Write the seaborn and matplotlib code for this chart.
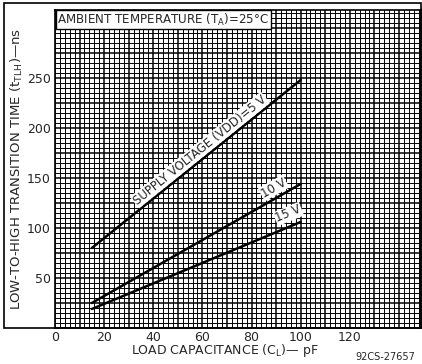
import numpy as np
import pandas as pd
import seaborn as sns
import matplotlib.pyplot as plt
from matplotlib.patches import Rectangle

# values (tTLH vs CL, TA = 25 C)
cap_pf = [15, 100]
t_5v = [80, 248]
t_10v = [25, 144]
t_15v = [19, 106]
vdd_names = ["5 V", "10 V", "15 V"]

x_ticklabels = ["0", "20", "40", "60", "80", "100", "120"]
y_ticklabels = ["50", "100", "150", "200", "250"]

df = pd.DataFrame({
    "cap": cap_pf * 3,
    "t": t_5v + t_10v + t_15v,
    "vdd": [vdd_names[0]] * 2 + [vdd_names[1]] * 2 + [vdd_names[2]] * 2,
})

sns.set_style("white")
plt.rcParams["font.family"] = ["DejaVu Sans"]

fig = plt.figure(figsize=(4.22, 3.64), dpi=100)
ax = fig.add_axes([55 / 422, 36 / 364, 366 / 422, 318 / 364])

sns.lineplot(data=df, x="cap", y="t", hue="vdd",
             palette={v: "black" for v in vdd_names},
             legend=False, linewidth=1.8, ax=ax, zorder=5)

ax.set_xlim(0, 149)
ax.set_ylim(0, 318)

# graph paper
ax.set_xticks(np.arange(0, 150, 10))
ax.set_xticks(np.arange(0, 150, 2), minor=True)
ax.set_yticks(np.arange(0, 320, 25))
ax.set_yticks(np.arange(0, 320, 5), minor=True)
ax.grid(which="major", color="black", linewidth=1.1)
ax.grid(which="minor", color="black", linewidth=0.7)
ax.set_axisbelow(True)

xl = [x_ticklabels[int(v) // 20] if v % 20 == 0 and v <= 120 else "" for v in np.arange(0, 150, 10)]
yl = []
for v in np.arange(0, 320, 25):
    yl.append(str(v) if v % 50 == 0 and str(v) in y_ticklabels else "")
ax.set_xticklabels(xl, fontsize=9)
ax.set_yticklabels(yl, fontsize=9)
ax.tick_params(axis="both", which="both", length=0)
ax.tick_params(axis="x", pad=2)
ax.tick_params(axis="y", pad=3)
for s in ax.spines.values():
    s.set_color("black")
    s.set_linewidth(1.2)

ax.set_xlabel("LOAD CAPACITANCE (C$_\\mathregular{L}$)\u2014 pF", fontsize=9)
ax.xaxis.set_label_coords(0.465, -0.072)
ax.xaxis.label.set_va("center")
ax.set_ylabel("LOW-TO-HIGH TRANSITION TIME (t$_\\mathregular{TLH}$)\u2014ns", fontsize=9.5)
ax.yaxis.set_label_coords(-0.104, 0.5)
ax.yaxis.label.set_va("center")

# curve labels, rotated along each line
box = dict(facecolor="white", edgecolor="none", pad=0.6)
def slope_deg(ys):
    return np.degrees(np.arctan2(ys[1] - ys[0], cap_pf[1] - cap_pf[0]))

ax.text(59, 178, "SUPPLY VOLTAGE (VDD)=5 V", fontsize=8.5, ha="center", va="center",
        rotation=slope_deg(t_5v), rotation_mode="anchor", transform_rotates_text=True,
        bbox=box, zorder=6)
ax.text(89, 140, "10 V", fontsize=8.5, ha="center", va="center",
        rotation=slope_deg(t_10v), rotation_mode="anchor", transform_rotates_text=True,
        bbox=box, zorder=6)
ax.text(95, 114, "15 V", fontsize=8.5, ha="center", va="center",
        rotation=slope_deg(t_15v), rotation_mode="anchor", transform_rotates_text=True,
        bbox=box, zorder=6)

ax.text(0.006, 0.995, "AMBIENT TEMPERATURE (T$_\\mathregular{A}$)=25\u00b0C", transform=ax.transAxes,
        fontsize=8.6, ha="left", va="top",
        bbox=dict(facecolor="white", edgecolor="black", linewidth=1, pad=1.2), zorder=7)

# outer frame round labels and plot
fig.patches.append(Rectangle((4 / 422, 36 / 364), 417 / 422, 325 / 364, transform=fig.transFigure,
                             fill=False, edgecolor="black", linewidth=1.2))

fig.text(385 / 422, 7 / 364, "92CS-27657", fontsize=7, ha="center", va="center")

fig.savefig("out.png", dpi=100)
